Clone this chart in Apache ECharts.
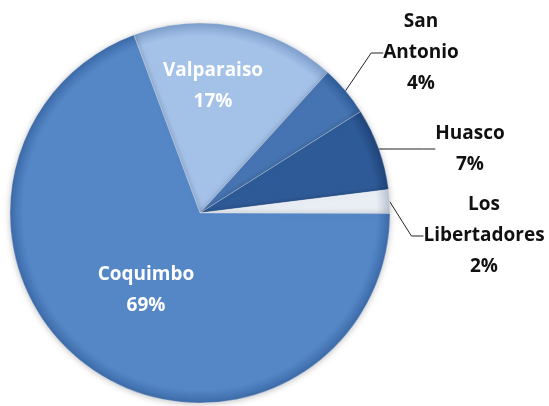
<!DOCTYPE html>
<html>
<head>
<meta charset="utf-8">
<script src="https://cdn.jsdelivr.net/npm/echarts@6/dist/echarts.min.js"></script>
<style>
html,body{margin:0;padding:0;background:#fff;}
#main{width:549px;height:406px;}
</style>
</head>
<body>
<div id="main"></div>
<script>
// Data (clockwise from the top-left boundary)
const categories = ['Valparaiso', 'San Antonio', 'Huasco', 'Los Libertadores', 'Coquimbo'];
const labelNames = ['Valparaiso', 'San\nAntonio', 'Huasco', 'Los\nLibertadores', 'Coquimbo'];
const values = [17.4, 4.3, 7.0, 2.0, 69.3];

const colors = ['#A4C1E8', '#4674B2', '#2E5A97', '#E9EEF5', '#5587C7'];
const edgeColors = ['#7E9FCC', '#2F5C99', '#1F4478', '#B9C3CF', '#3D6BA8'];
const inside = [true, false, false, false, true];
// label anchor positions (px)
const labelPos = [
  [213, 86], [421, 53], [470, 149], [484, 236], [146, 290]
];

const CX = 200, CY = 213, R = 190;

const chart = echarts.init(document.getElementById('main'));
const data = categories.map((c, i) => ({
  name: c,
  value: values[i],
  itemStyle: {
    color: {
      type: 'radial', x: CX, y: CY, r: R, global: true,
      colorStops: [
        { offset: 0, color: colors[i] },
        { offset: 0.93, color: colors[i] },
        { offset: 1, color: edgeColors[i] }
      ]
    }
  },
  label: {
    position: inside[i] ? 'inside' : 'outside',
    color: inside[i] ? '#ffffff' : '#111111'
  },
  labelLine: { show: !inside[i] }
}));

chart.setOption({
  animation: false,
  series: [{
    type: 'pie',
    center: [CX, CY],
    radius: [0, R],
    startAngle: 110.4,
    clockwise: true,
    data: data,
    itemStyle: {
      borderColor: 'rgba(255,255,255,0.35)',
      borderWidth: 0.8,
      shadowBlur: 6,
      shadowColor: 'rgba(0,0,0,0.25)',
      shadowOffsetY: 1
    },
    label: {
      show: true,
      fontFamily: 'Open Sans',
      fontWeight: 'bold',
      fontSize: 19,
      lineHeight: 31,
      align: 'center',
      formatter: function (p) {
        return labelNames[p.dataIndex] + '\n' + Math.round(p.percent) + '%';
      }
    },
    labelLine: {
      show: true,
      length: 15,
      length2: 12,
      lineStyle: { color: '#222', width: 1 }
    },
    labelLayout: function (params) {
      const p = labelPos[params.dataIndex];
      return {
        x: p[0], y: p[1],
        align: 'center', verticalAlign: 'middle'
      };
    }
  }]
});
</script>
</body>
</html>
